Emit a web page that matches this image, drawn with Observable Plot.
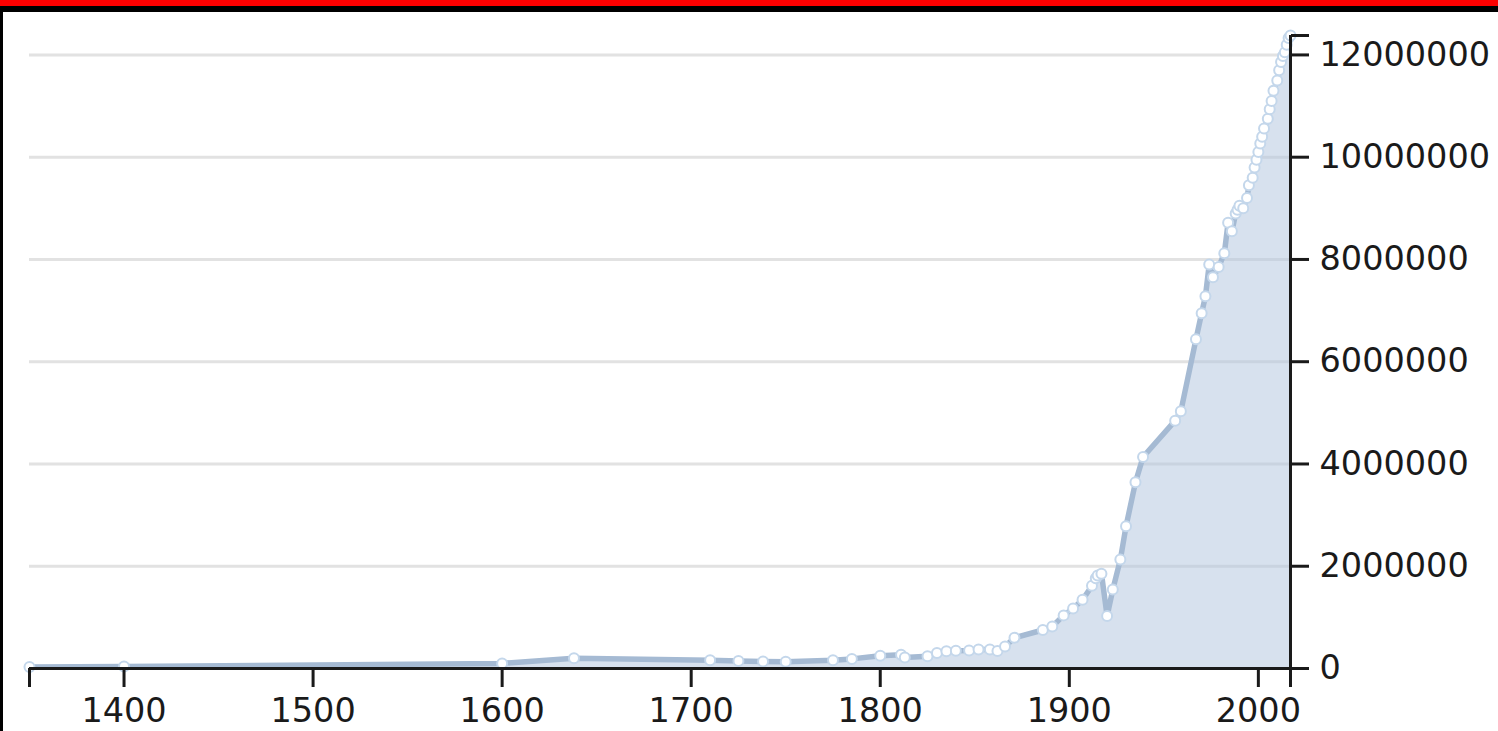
<!DOCTYPE html>
<html>
<head>
<meta charset="utf-8">
<script src="https://cdn.jsdelivr.net/npm/d3@7"></script>
<script src="https://cdn.jsdelivr.net/npm/@observablehq/plot@0.6"></script>
<style>
  html, body { margin: 0; padding: 0; background: #fff; overflow: hidden; }
  #redbar { height: 6px; background: #ff0000; }
  #frame { border-top: 6px solid #000; border-left: 3px solid #000; height: 719px; }
  #chart svg { display: block; }
</style>
</head>
<body>
<div id="redbar"></div>
<div id="frame"><div id="chart"></div></div>
<script>
const years = [1350,1400,1600,1638,1710,1725,1738,1750,1775,1785,1800,1811,1813,1825,1830,1835,1840,1847,1852,1858,1862,1866,1871,1886,1891,1897,1902,1907,1912,1914,1915,1917,1920,1923,1927,1930,1935,1939,1956,1959,1967,1970,1972,1974,1976,1979,1982,1984,1986,1988,1989,1990,1992,1994,1995,1997,1998,1999,2000,2001,2002,2003,2005,2006,2007,2008,2010,2011,2012,2013,2014,2015,2016,2017];
const population = [30000,40000,100000,200000,160000,145000,138000,130000,161000,188000,250000,270000,215000,241000,305000,336000,349000,353000,373000,372000,340000,430000,602000,753000,822000,1039000,1175000,1346000,1618000,1763000,1817000,1854000,1028000,1543000,2130000,2781000,3642000,4137000,4847000,5032000,6440000,6950000,7280000,7900000,7650000,7850000,8120000,8720000,8550000,8900000,8970000,9050000,9000000,9200000,9450000,9600000,9800000,9950000,10100000,10270000,10400000,10560000,10750000,10940000,11100000,11300000,11500000,11700000,11860000,11980000,12050000,12200000,12330000,12380000];
const xTicks = [1350,1400,1500,1600,1700,1800,1900,2000,2017];
const yTicks = [0,2000000,4000000,6000000,8000000,10000000,12000000,12380000];
const gridValues = [0,2000000,4000000,6000000,8000000,10000000,12000000];

const data = years.map((year, i) => ({year, value: population[i]}));
const xMin = 1350, xMax = 2017, yMax = 12380000;

const chart = Plot.plot({
  width: 1495,
  height: 719,
  marginLeft: 26,
  marginRight: 208,
  marginTop: 23,
  marginBottom: 63,
  style: {fontFamily: "DejaVu Sans", fontSize: "33.5px", background: "#fff", color: "#1a1a1a"},
  x: {domain: [xMin, xMax]},
  y: {domain: [0, yMax]},
  marks: [
    Plot.ruleY(gridValues, {stroke: "#e2e2e2", strokeWidth: 3}),
    Plot.areaY(data, {x: "year", y: "value", fill: "#b0c4de", fillOpacity: 0.5}),
    Plot.line(data, {x: "year", y: "value", stroke: "#a5bad3", strokeWidth: 5.5}),
    Plot.dot(data, {x: "year", y: "value", r: 5, fill: "#fff", stroke: "#c4d7eb", strokeWidth: 2}),
    Plot.ruleY([0], {stroke: "#1a1a1a", strokeWidth: 3}),
    Plot.ruleX([xMax], {stroke: "#1a1a1a", strokeWidth: 3}),
    Plot.axisX({ticks: xTicks, tickSize: 19, tickPadding: 11, strokeWidth: 3, label: null,
      tickFormat: d => (d === xMin || d === xMax) ? "" : String(d)}),
    Plot.axisY({anchor: "right", ticks: yTicks, tickSize: 18, tickPadding: 11, strokeWidth: 3, label: null,
      tickFormat: d => d === yMax ? "" : String(d)})
  ]
});
document.getElementById("chart").appendChild(chart);
</script>
</body>
</html>
